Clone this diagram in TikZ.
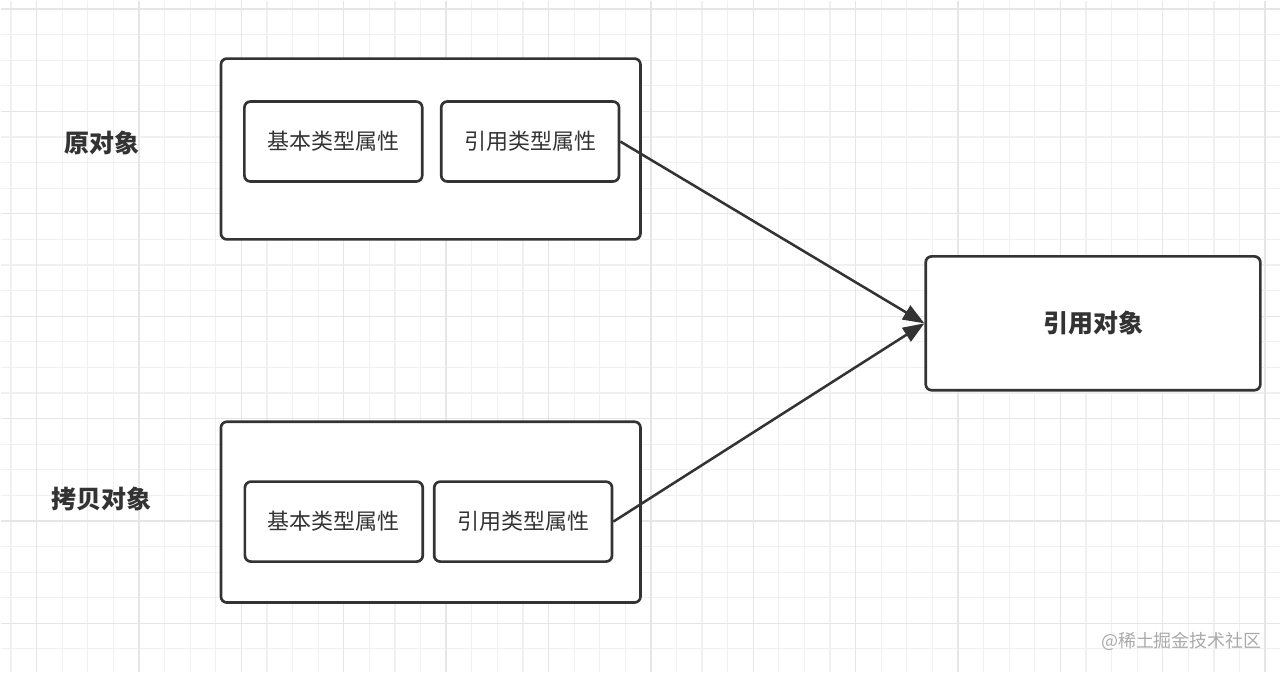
\documentclass[tikz,border=0pt]{standalone}
\usepackage{fontspec}
\setmainfont{Noto Sans CJK SC}
\usetikzlibrary{arrows.meta}
\definecolor{boxline}{HTML}{333333}
\definecolor{gridminor}{HTML}{F0F0F0}
\definecolor{gridmajor}{HTML}{E6E6E6}
\definecolor{marktext}{HTML}{AAAAAA}

\begin{document}
\begin{tikzpicture}[x=0.75pt,y=-0.75pt,>={Triangle[length=16pt,width=12pt]},
    outerbox/.style={draw=boxline,line width=2pt,rounded corners=4.5pt,fill=white,
        minimum width=315pt,minimum height=135.75pt},
    fieldbox/.style={draw=boxline,line width=2pt,rounded corners=4.5pt,fill=white,
        minimum width=133.5pt,minimum height=60pt,text=boxline,
        font=\fontsize{16.5pt}{18pt}\selectfont},
    objlabel/.style={text=boxline,font=\bfseries\fontsize{18.75pt}{20pt}\selectfont}]
    % background and grid
    \fill[white] (0,0) rectangle (1281,672);
    \foreach \i in {0,...,49}
        \draw[gridminor,line width=0.9pt] ({10.4+25.62*\i},0) -- ({10.4+25.62*\i},672);
    \foreach \j in {0,...,25}
        \draw[gridminor,line width=0.9pt] (0,{8.4+25.62*\j}) -- (1281,{8.4+25.62*\j});
    \foreach \i in {1,5,...,49}
        \draw[gridmajor,line width=1pt] ({10.4+25.62*\i},0) -- ({10.4+25.62*\i},672);
    \foreach \j in {0,4,...,25}
        \draw[gridmajor,line width=1pt] (0,{8.4+25.62*\j}) -- (1281,{8.4+25.62*\j});
    % original object
    \node[outerbox] (orig) at (430.5,148.5) {};
    \node[fieldbox] (origbase) at (333,141) {基本类型属性};
    \node[fieldbox] (origref) at (530,141) {引用类型属性};
    \node[objlabel] (origlabel) at (101,142) {原对象};
    % copied object
    \node[outerbox] (copy) at (430.5,512) {};
    \node[fieldbox] (copybase) at (333.5,521.5) {基本类型属性};
    \node[fieldbox] (copyref) at (523,521.5) {引用类型属性};
    \node[objlabel] (copylabel) at (101,499) {拷贝对象};
    % referenced object
    \node[draw=boxline,line width=2pt,rounded corners=4.5pt,fill=white,
        minimum width=251.25pt,minimum height=100.5pt,objlabel] (refobj) at (1093.5,323) {引用对象};
    % arrows
    \draw[->,boxline,line width=1.9pt] (origref.east) -- (refobj.west);
    \draw[->,boxline,line width=1.9pt] (copyref.east) -- (refobj.west);
    % watermark
    \node[text=marktext,font=\fontsize{13.5pt}{15pt}\selectfont] (mark) at (1182,641) {@稀土掘金技术社区};
\end{tikzpicture}
\end{document}
